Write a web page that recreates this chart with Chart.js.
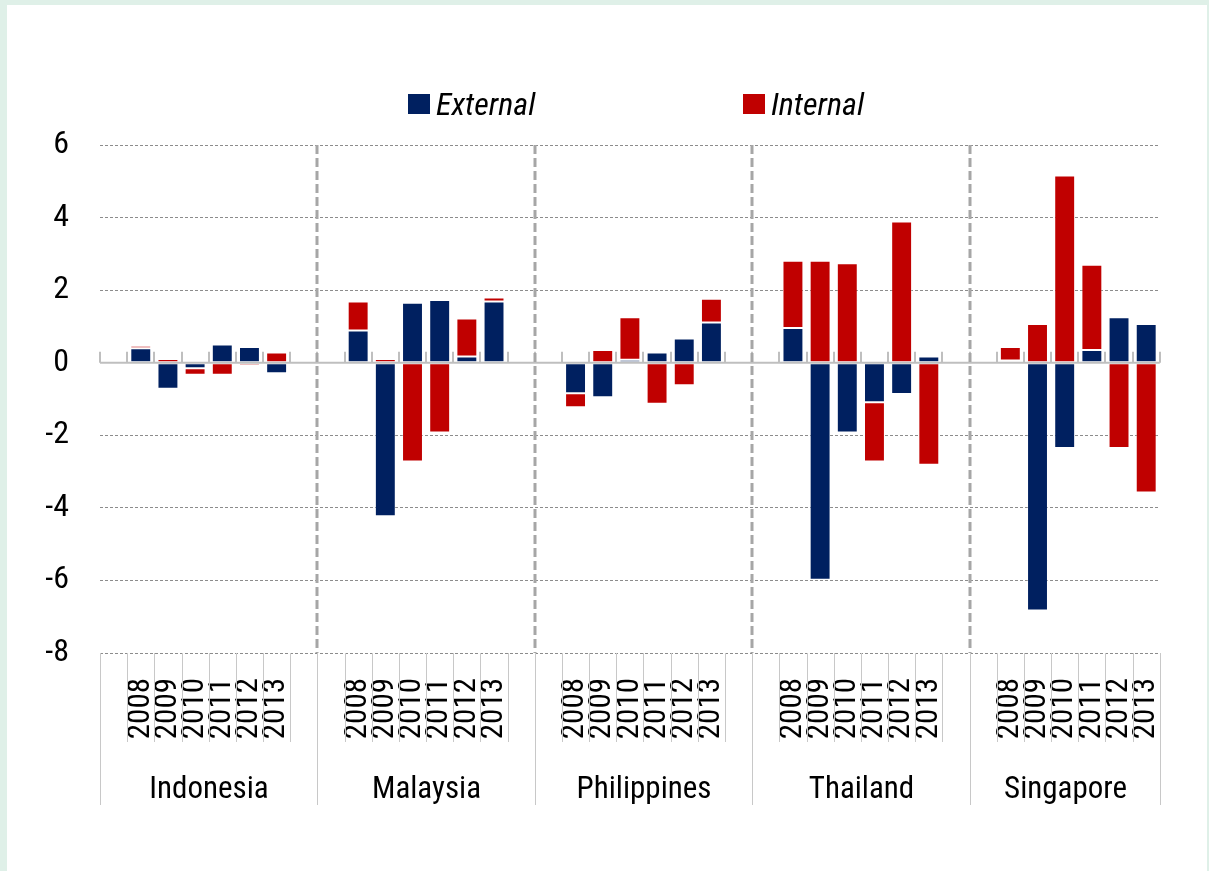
<!DOCTYPE html>
<html>
<head>
<meta charset="utf-8">
<script src="https://cdn.jsdelivr.net/npm/chart.js@4.4.1/dist/chart.umd.min.js"></script>
<style>
  html, body { margin: 0; padding: 0; background: #dff0e8; }
  #wrap { position: absolute; left: 0; top: 0; width: 1209px; height: 871px; }
</style>
</head>
<body>
<div id="wrap"><canvas id="c" width="1209" height="871"></canvas></div>
<script>
// ---- data ----
const countries = ['Indonesia', 'Malaysia', 'Philippines', 'Thailand', 'Singapore'];
const years = ['2008', '2009', '2010', '2011', '2012', '2013'];
// values per country, years 2008..2013
const externalIndonesia   = [0.40, -0.72, -0.15, 0.50, 0.43, -0.29];
const internalIndonesia   = [0.07, 0.10, -0.18, -0.33, -0.08, 0.28];
const externalMalaysia    = [0.89, -4.23, 1.65, 1.73, 0.17, 1.69];
const internalMalaysia    = [0.80, 0.10, -2.72, -1.92, 1.05, 0.11];
const externalPhilippines = [-0.84, -0.95, 0.08, 0.28, 0.67, 1.11];
const internalPhilippines = [-0.39, 0.35, 1.17, -1.13, -0.62, 0.65];
const externalThailand    = [0.96, -5.98, -1.92, -1.09, -0.86, 0.17];
const internalThailand    = [1.85, 2.81, 2.74, -1.63, 3.89, -2.81];
const externalSingapore   = [0.06, -6.83, -2.35, 0.35, 1.25, 1.07];
const internalSingapore   = [0.37, 1.07, 5.16, 2.35, -2.35, -3.58];
const yTicks = [-8, -6, -4, -2, 0, 2, 4, 6];

const externalByCountry = [externalIndonesia, externalMalaysia, externalPhilippines, externalThailand, externalSingapore];
const internalByCountry = [internalIndonesia, internalMalaysia, internalPhilippines, internalThailand, internalSingapore];

// ---- build padded category axis (blank slot before each group, and after all but last) ----
const labels = [], extData = [], intData = [], groups = [];
countries.forEach((c, i) => {
  const start = labels.length;
  labels.push(''); extData.push(null); intData.push(null);
  years.forEach((y, j) => {
    labels.push(y);
    extData.push(externalByCountry[i][j]);
    intData.push(internalByCountry[i][j]);
  });
  if (i < countries.length - 1) { labels.push(''); extData.push(null); intData.push(null); }
  groups.push({ name: c, start: start, end: labels.length - 1 });
});

const FONT = "'Roboto Condensed','Liberation Sans Narrow','Arial Narrow','DejaVu Sans Condensed',sans-serif";
const NAVY = '#002060', RED = '#C00000';

const decor = {
  id: 'decor',
  beforeDraw(chart) {
    const ctx = chart.ctx;
    ctx.save();
    ctx.fillStyle = '#dff0e8';
    ctx.fillRect(0, 0, chart.width, chart.height);
    ctx.fillStyle = '#ffffff';
    ctx.fillRect(7, 5, 1200, chart.height - 5);
    ctx.restore();
  },
  afterDatasetsDraw(chart) {
    const ctx = chart.ctx, x = chart.scales.x, y = chart.scales.y;
    const area = chart.chartArea;
    const half = (x.getPixelForValue(1) - x.getPixelForValue(0)) / 2;
    const y0 = y.getPixelForValue(0);
    ctx.save();
    // zero line
    ctx.strokeStyle = '#bfbfbf';
    ctx.lineWidth = 2;
    ctx.beginPath();
    ctx.moveTo(area.left, y0); ctx.lineTo(area.right, y0);
    ctx.stroke();
    // tick marks on zero line
    ctx.lineWidth = 2;
    for (let i = 0; i <= labels.length; i++) {
      const px = Math.round(x.getPixelForValue(0) - half + i * 2 * half);
      ctx.beginPath();
      ctx.moveTo(px, y0 - 11); ctx.lineTo(px, y0);
      ctx.stroke();
    }
    // dashed group separators
    ctx.strokeStyle = '#a6a6a6';
    ctx.lineWidth = 3;
    ctx.setLineDash([9, 4]);
    groups.forEach((g, i) => {
      if (i === 0) return;
      const px = Math.round(x.getPixelForValue(g.start) - half);
      ctx.beginPath();
      ctx.moveTo(px, area.top); ctx.lineTo(px, area.bottom);
      ctx.stroke();
    });
    ctx.restore();
  },
  afterDraw(chart) {
    const ctx = chart.ctx, x = chart.scales.x;
    const area = chart.chartArea;
    const half = (x.getPixelForValue(1) - x.getPixelForValue(0)) / 2;
    ctx.save();
    // category table lines
    ctx.strokeStyle = '#c8c8c8';
    ctx.lineWidth = 1;
    for (let i = 0; i <= labels.length; i++) {
      const px = Math.round(x.getPixelForValue(0) - half + i * 2 * half) + 0.5;
      ctx.beginPath();
      ctx.moveTo(px, area.bottom); ctx.lineTo(px, area.bottom + 89);
      ctx.stroke();
    }
    groups.forEach((g) => {
      const l = Math.round(x.getPixelForValue(g.start) - half) + 0.5;
      const r = Math.round(x.getPixelForValue(g.end) + half) + 0.5;
      ctx.beginPath();
      ctx.moveTo(l, area.bottom); ctx.lineTo(l, area.bottom + 152);
      ctx.moveTo(r, area.bottom); ctx.lineTo(r, area.bottom + 152);
      ctx.stroke();
      ctx.fillStyle = '#000';
      ctx.font = '31px ' + FONT;
      ctx.textAlign = 'center';
      ctx.textBaseline = 'middle';
      ctx.fillText(g.name, (l + r) / 2, area.bottom + 137);
    });
    // legend
    const items = chart.data.datasets.map((d) => ({ label: d.label, color: d.backgroundColor }));
    const pos = [408, 743];
    items.forEach((it, i) => {
      ctx.fillStyle = it.color;
      ctx.fillRect(pos[i], 94, 22, 20);
      ctx.fillStyle = '#000';
      ctx.font = 'italic 32px ' + FONT;
      ctx.textAlign = 'left';
      ctx.textBaseline = 'alphabetic';
      ctx.fillText(it.label, pos[i] + 28, 115);
    });
    ctx.restore();
  }
};

new Chart(document.getElementById('c'), {
  type: 'bar',
  data: {
    labels: labels,
    datasets: [
      { label: 'External', data: extData, backgroundColor: NAVY, borderColor: 'rgba(255,255,255,0.28)', borderWidth: 1, borderSkipped: false },
      { label: 'Internal', data: intData, backgroundColor: RED, borderColor: 'rgba(255,255,255,0.28)', borderWidth: 1, borderSkipped: false }
    ]
  },
  options: {
    responsive: false,
    animation: false,
    devicePixelRatio: 1,
    layout: { padding: { left: 0, right: 46, top: 145, bottom: 0 } },
    plugins: { legend: { display: false }, tooltip: { enabled: false } },
    datasets: { bar: { categoryPercentage: 1.0, barPercentage: 0.77 } },
    scales: {
      x: {
        stacked: true,
        grid: { display: false, drawTicks: false },
        border: { display: false },
        ticks: {
          autoSkip: false, minRotation: 90, maxRotation: 90, padding: 25,
          color: '#000', font: { family: FONT, size: 31 }
        },
        afterFit(s) { s.height = 218; }
      },
      y: {
        stacked: true,
        min: -8, max: 6,
        afterBuildTicks(s) { s.ticks = yTicks.map((v) => ({ value: v })); },
        grid: { color: '#8c8c8c', lineWidth: 1, drawTicks: false },
        border: { display: false, dash: [3, 2] },
        ticks: { padding: 31, color: '#000', font: { family: FONT, size: 32 } },
        afterFit(s) { s.width = 100; }
      }
    }
  },
  plugins: [decor]
});
</script>
</body>
</html>
